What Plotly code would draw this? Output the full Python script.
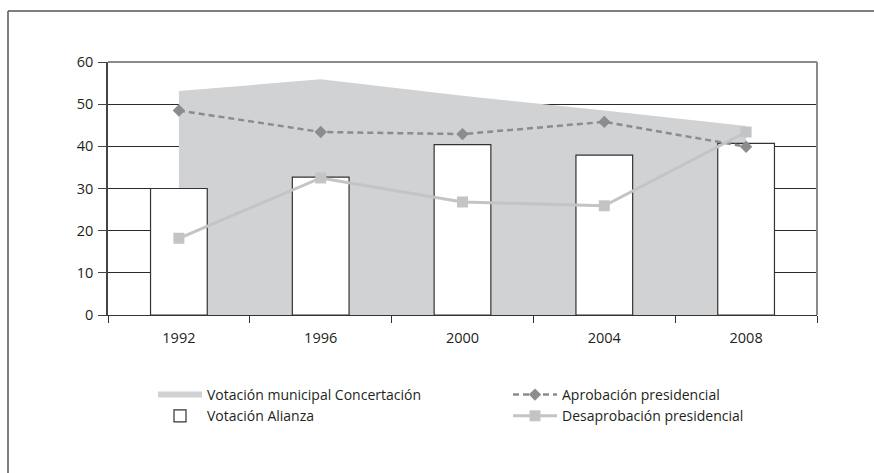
import plotly.graph_objects as go

years = ["1992", "1996", "2000", "2004", "2008"]
concertacion = [53.1, 55.9, 52.0, 48.5, 44.8]
alianza = [30.0, 32.7, 40.4, 37.9, 40.7]
aprobacion = [48.5, 43.4, 42.9, 45.8, 39.9]
desaprobacion = [18.2, 32.5, 26.8, 25.9, 43.4]
y_ticks = [0, 10, 20, 30, 40, 50, 60]

FONT = "Open Sans"
TXT = "#231f20"

fig = go.Figure()
# area on the main subplot (drawn first, under the bars)
fig.add_trace(go.Scatter(
    x=years, y=concertacion, name="Votación municipal Concertación",
    mode="none", fill="tozeroy", fillcolor="#d1d2d4",
    legend="legend", legendrank=1,
))
# bars and lines on an overlaid subplot so they sit above the area
fig.add_trace(go.Bar(
    x=years, y=alianza, name="Votación Alianza", xaxis="x2", yaxis="y2",
    marker=dict(color="white", line=dict(color="#333333", width=1.2)),
    legend="legend", legendrank=2,
))
fig.add_trace(go.Scatter(
    x=years, y=aprobacion, name="Aprobación presidencial", xaxis="x2", yaxis="y2",
    mode="lines+markers",
    line=dict(color="#8c8c8e", width=2.5, dash="6px,4px"),
    marker=dict(symbol="diamond", size=9.5, color="#8c8c8e"),
    legend="legend2", legendrank=1,
))
fig.add_trace(go.Scatter(
    x=years, y=desaprobacion, name="Desaprobación presidencial", xaxis="x2", yaxis="y2",
    mode="lines+markers",
    line=dict(color="#c3c4c6", width=3),
    marker=dict(symbol="square", size=11, color="#c3c4c6"),
    legend="legend2", legendrank=2,
))

W, H = 874, 473
L, R, T, B = 108, 57, 62, 158
PW, PH = W - L - R, H - T - B

def px(xp):
    return (xp - L) / PW

def py(yp):
    return (H - B - yp) / PH

legend_common = dict(
    orientation="v", xanchor="left", yanchor="top", itemwidth=44,
    traceorder="normal", font=dict(family=FONT, size=14, color=TXT),
    bgcolor="rgba(0,0,0,0)", borderwidth=0,
)

fig.update_layout(
    width=W, height=H,
    margin=dict(l=L, r=R, t=T, b=B, pad=0, autoexpand=False),
    paper_bgcolor="white", plot_bgcolor="white",
    font=dict(family=FONT, size=14, color=TXT),
    bargap=0.6,
    showlegend=True,
    legend=dict(x=px(153), y=py(379), **legend_common),
    legend2=dict(x=px(508), y=py(379), **legend_common),
    xaxis=dict(
        type="category", categoryorder="array", categoryarray=years,
        range=[-0.5, 4.5], tickson="boundaries",
        showgrid=False, showline=True, linecolor="#333333", linewidth=1.2,
        ticks="outside", ticklen=7, tickcolor="#333333", tickwidth=1.2,
        ticklabelstandoff=9,
        tickfont=dict(family=FONT, size=14.5, color=TXT),
        zeroline=False, fixedrange=True,
    ),
    yaxis=dict(
        range=[0, 60], tickvals=y_ticks, showgrid=True, gridcolor="#2a2a2a",
        gridwidth=1, showline=True, linecolor="#444444", linewidth=1.5,
        ticks="outside", ticklen=8, tickcolor="#444444", tickwidth=1.2,
        ticklabelstandoff=2,
        tickfont=dict(family=FONT, size=14.5, color=TXT),
        zeroline=False, fixedrange=True,
    ),
    xaxis2=dict(
        type="category", categoryorder="array", categoryarray=years,
        range=[-0.5, 4.5], overlaying="x", visible=False, fixedrange=True,
    ),
    yaxis2=dict(range=[0, 60], overlaying="y", visible=False, fixedrange=True),
    shapes=[
        # plot frame top and right (grey)
        dict(type="line", xref="paper", yref="paper", x0=0, x1=1, y0=1, y1=1,
             line=dict(color="#8a8a8a", width=2), layer="above"),
        dict(type="line", xref="paper", yref="paper", x0=1, x1=1, y0=0, y1=1,
             line=dict(color="#8a8a8a", width=2), layer="above"),
        # outer figure frame (left and top)
        dict(type="line", xref="paper", yref="paper", x0=px(8), x1=px(8),
             y0=py(11), y1=py(480), line=dict(color="#555555", width=1.5)),
        dict(type="line", xref="paper", yref="paper", x0=px(8), x1=px(880),
             y0=py(11), y1=py(11), line=dict(color="#555555", width=1.5)),
    ],
)

fig.write_html(
    "out.html",
    config={"displayModeBar": False},
    post_script="document.body.style.margin='0';",
)
